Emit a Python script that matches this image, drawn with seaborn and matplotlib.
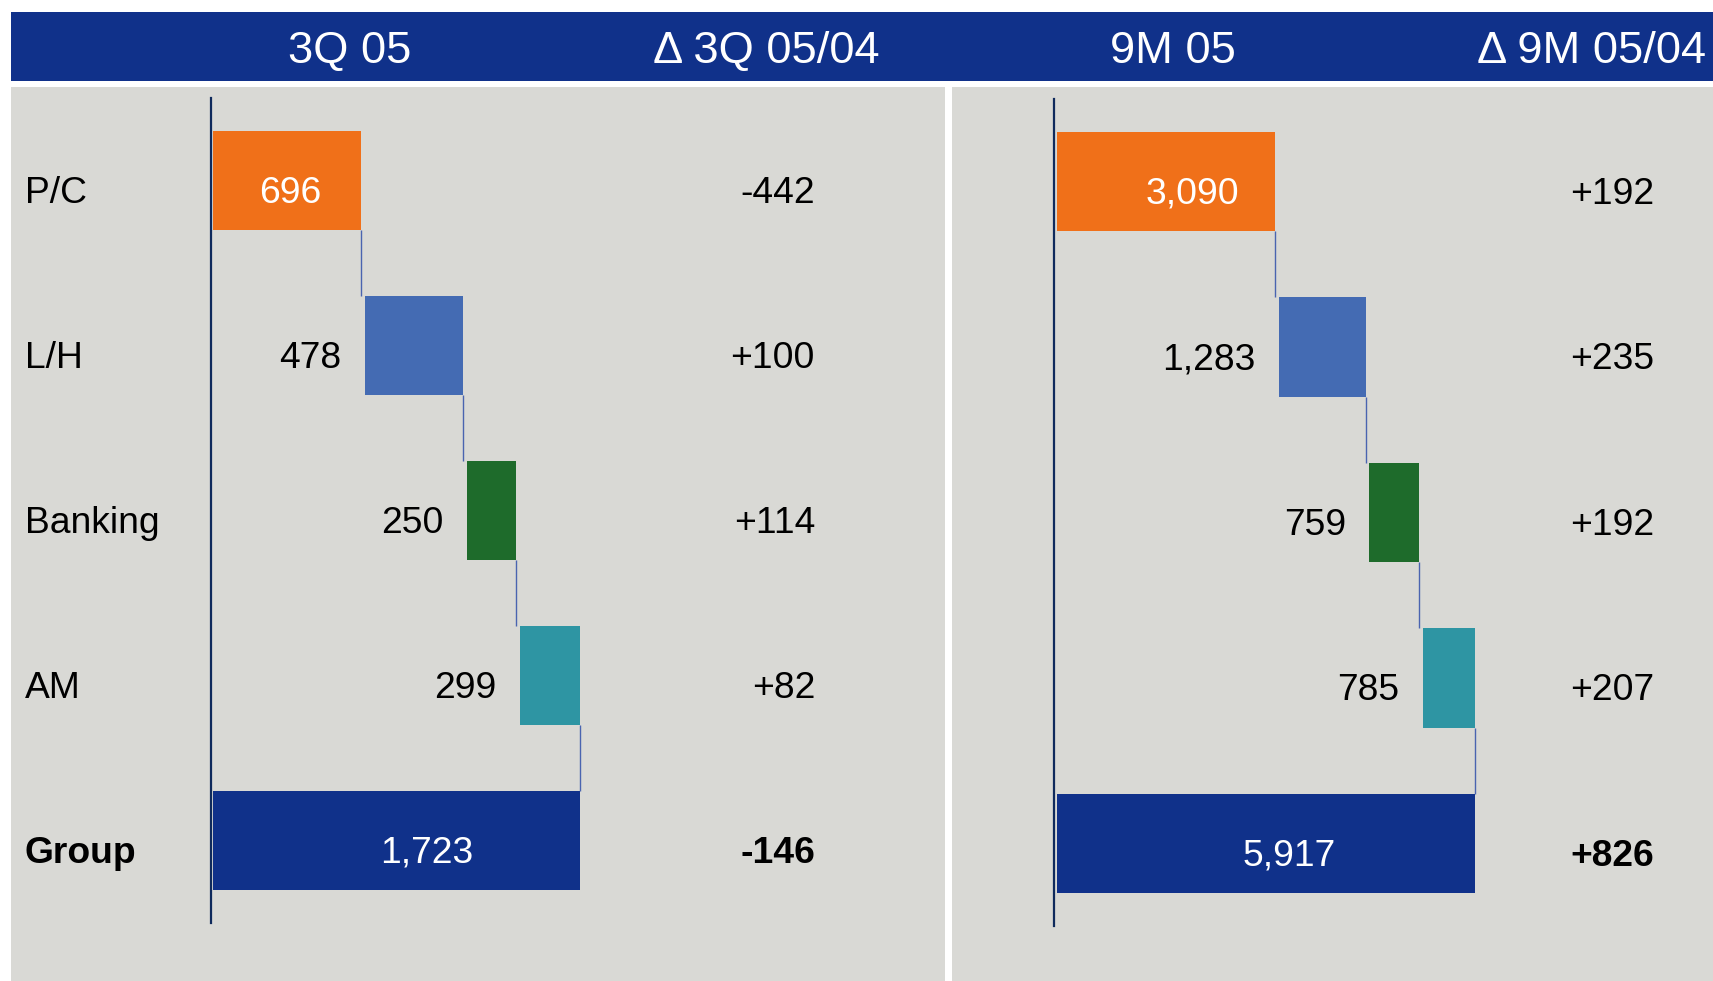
import matplotlib
matplotlib.use('Agg')
import matplotlib.pyplot as plt
import matplotlib.transforms as mtransforms
from matplotlib.patches import Rectangle
import pandas as pd
import seaborn as sns

# ---------------- data ----------------
categories = ['P/C', 'L/H', 'Banking', 'AM', 'Group']
q3_values = [696, 478, 250, 299, 1723]
q3_deltas = ['-442', '+100', '+114', '+82', '-146']
m9_values = [3090, 1283, 759, 785, 5917]
m9_deltas = ['+192', '+235', '+192', '+207', '+826']
headers = ['3Q 05', 'Δ 3Q 05/04', '9M 05', 'Δ 9M 05/04']

# ---------------- style ----------------
bar_colors = ['#F07019', '#446BB3', '#1E6B2B', '#2E95A3', '#10318A']
NAVY = '#10318A'
GRAY = '#D9D9D5'
AXIS = '#0F2A5C'
CONN = '#4A64B0'
FS = 26.8

W, H = 1713, 981
sns.set_theme(style='white')
plt.rcParams['font.family'] = ['Liberation Sans', 'DejaVu Sans']

fig = plt.figure(figsize=(W / 100, H / 100), dpi=100)
fig.patch.set_facecolor('white')


def fy(y):
    return 1 - y / H


# background panels and header band
fig.patches.append(Rectangle((11 / W, 0), (945 - 11) / W, (981 - 87) / H,
                             transform=fig.transFigure, facecolor=GRAY, edgecolor='none', zorder=-10))
fig.patches.append(Rectangle((952 / W, 0), (W - 952) / W, (981 - 87) / H,
                             transform=fig.transFigure, facecolor=GRAY, edgecolor='none', zorder=-10))
fig.patches.append(Rectangle((11 / W, fy(81)), (W - 11) / W, (81 - 12) / H,
                             transform=fig.transFigure, facecolor=NAVY, edgecolor='none', zorder=-10))

header_x = [350, 766, 1173, 1592]
for hx, txt in zip(header_x, headers):
    fig.text(hx / W, fy(63), txt, ha='center', va='baseline', fontsize=32.6, color='white')


def waterfall(rect, scale, zero_px, values, deltas, delta_x, inside_dx, show_cats):
    ax = fig.add_axes(rect)
    ax.set_zorder(5)
    ax.set_facecolor('none')
    width_px = rect[2] * W
    gap = 3.8 / scale  # small visual gap before each floating bar
    df = pd.DataFrame({'cat': categories, 'val': values})
    sns.barplot(data=df, x='val', y='cat', hue='cat', palette=bar_colors, orient='h',
                width=0.6, dodge=False, legend=False, ax=ax, saturation=1)
    n = len(values)
    starts = []
    run = 0
    for i, v in enumerate(values):
        if i == n - 1:
            starts.append(0)
        else:
            starts.append(run)
            run += v
    for p in ax.patches:
        i = int(round(p.get_y() + p.get_height() / 2))
        if 0 < i < n - 1:
            p.set_x(starts[i] + gap)
            p.set_width(values[i] - gap)
        else:
            p.set_x(starts[i])
        p.set_edgecolor('none')
    ax.set_xlim(-zero_px / scale, (width_px - zero_px) / scale)
    ax.set_ylim(4.5, -0.5)
    ax.set_xticks([])
    ax.set_yticks([])
    ax.set_xlabel('')
    ax.set_ylabel('')
    for s in ['top', 'right', 'bottom']:
        ax.spines[s].set_visible(False)
    ax.spines['left'].set_color(AXIS)
    ax.spines['left'].set_linewidth(1.6)

    # connectors
    for i in range(n - 1):
        end = starts[i] + values[i]
        ax.plot([end, end], [i + 0.3, i + 0.7], color=CONN, lw=1.0, solid_capstyle='butt')

    # value labels
    for i, v in enumerate(values):
        lab = f'{v:,}'
        if i == 0 or i == n - 1:
            ax.annotate(lab, xy=(starts[i] + v / 2, i), xytext=(inside_dx[i], -16),
                        textcoords='offset points', ha='center', va='baseline',
                        fontsize=FS, color='white')
        else:
            ax.annotate(lab, xy=(starts[i] + gap, i), xytext=(-17, -16),
                        textcoords='offset points', ha='right', va='baseline',
                        fontsize=FS, color='black')

    blend = mtransforms.blended_transform_factory(fig.transFigure, ax.transData)
    for i, d in enumerate(deltas):
        ax.annotate(d, xy=(delta_x / W, i), xycoords=blend, xytext=(0, -16),
                    textcoords='offset points', ha='right', va='baseline', fontsize=FS,
                    color='black', fontweight='bold' if i == n - 1 else 'normal',
                    annotation_clip=False)
    if show_cats:
        for i, c in enumerate(categories):
            ax.annotate(c, xy=(25 / W, i), xycoords=blend, xytext=(0, -16),
                        textcoords='offset points', ha='left', va='baseline', fontsize=FS,
                        color='black', fontweight='bold' if i == n - 1 else 'normal',
                        annotation_clip=False)
    return ax


waterfall([211 / W, fy(923), 734 / W, 825 / H], 0.213, 2.0, q3_values, q3_deltas, 815,
          [2, 0, 0, 0, 22], True)
waterfall([1054 / W, fy(926), 659 / W, 827 / H], 0.0707, 2.5, m9_values, m9_deltas, 1654,
          [19, 0, 0, 0, 17], False)

fig.savefig('out.png', dpi=100, facecolor=fig.get_facecolor())
